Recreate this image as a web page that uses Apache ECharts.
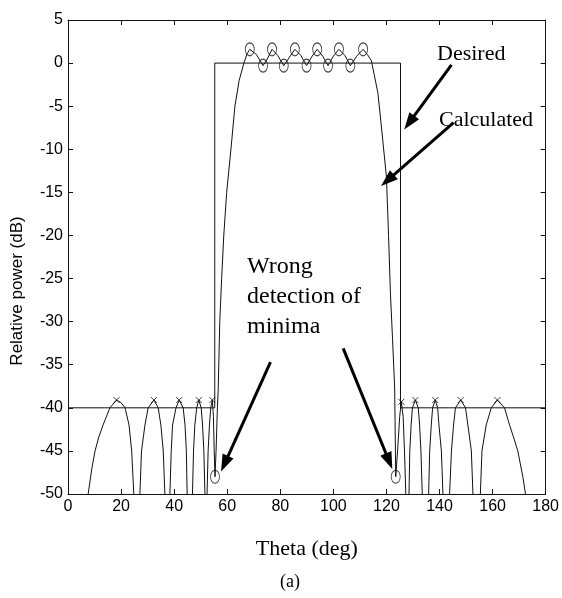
<!DOCTYPE html>
<html>
<head>
<meta charset="utf-8">
<script src="https://cdn.jsdelivr.net/npm/echarts@6/dist/echarts.min.js"></script>
<style>
html,body{margin:0;padding:0;background:#fff;}
#c{width:562px;height:598px;}
</style>
</head>
<body>
<div id="c"></div>
<script>
// ---- data ----
var xTicks = [0, 20, 40, 60, 80, 100, 120, 140, 160, 180];
var yTicks = [5, 0, -5, -10, -15, -20, -25, -30, -35, -40, -45, -50];

var desiredX = [0, 55.3, 55.3, 125.3, 125.3, 180];
var desiredY = [-40, -40, 0, 0, -40, -40];

var calcX = [7.6, 9, 10.2, 11.5, 13.2, 15.8, 18.3, 20, 21.5, 23, 24, 24.8, 26,
  27.1, 27.7, 29, 30.2, 32.4, 34, 35, 35.9, 36.5, 37.5,
  38.4, 38.9, 39.4, 40.7, 41.9, 43.4, 44.1, 44.6, 44.9, 46,
  46.9, 47.3, 47.8, 48.5, 49.3, 50.2, 50.7, 51.2, 51.6, 52,
  52.4, 52.8, 53.3, 53.8, 54.4, 54.8, 55.1, 55.4, 55.8, 56.3, 56.6, 57.2, 57.9, 58.7, 59.8, 61.4, 62.9, 64.5, 66.3, 67.5,
  68.5, 71, 73.5, 75.3, 76.9, 79, 81.3, 83.5, 85.5, 87.7, 89.9, 92, 93.9, 96, 98, 100, 102.1, 104.3, 106.4, 108.8, 111.2,
  112.8, 114.3, 115.5, 116.8, 118.3, 120, 120.8, 121.5, 122.3, 123.1, 123.5, 124.2, 125, 125.6, 126.3, 126.8, 127.3, 127.9,
  128.5, 128.8, 129.3, 129.8, 130.9, 132, 132.5, 133, 133.5, 134.6,
  135.9, 136.3, 136.9, 137.4, 138.4, 139.3, 139.8, 140.7, 141.3, 142.5,
  143.8, 144.5, 145.3, 146, 148, 149.8, 150.7, 152, 152.6, 154,
  155.4, 156, 157.6, 159.5, 161.8, 164.5, 166.4, 168, 169.5, 171.4, 172.4];
var calcY = [-50, -47, -45, -43.5, -42, -40, -39.1, -39.4, -40, -42, -45, -50, -57,
  -50, -45, -42, -40, -39.1, -40, -42, -45, -50, -57,
  -50, -45, -42, -40, -39.1, -40, -42, -45, -50, -57,
  -50, -45, -42, -40, -39.1, -40, -42, -45, -50, -56,
  -50, -45, -42, -40, -39.1, -41, -45, -48, -45, -40, -37.9, -30, -25, -20, -15, -10, -5, -2, 0, 1.1,
  1.6, 1.0, -0.3, 0.6, 1.6, 0.9, -0.3, 0.7, 1.6, 0.9, -0.3, 0.8, 1.6, 0.8, -0.3, 0.8, 1.6, 0.9, -0.3, 0.8, 1.6,
  1.0, 0.3, -1.5, -3.5, -8, -13.2, -20, -26.7, -32, -37.7, -48, -45, -41, -39.3, -41, -45, -50, -56,
  -50, -45, -42, -40, -39.1, -40, -42, -45, -50, -57,
  -50, -45, -42, -40, -39.1, -40, -42, -45, -50, -57,
  -50, -45, -42, -40, -39.1, -40, -42, -45, -50, -57,
  -50, -45, -42, -40, -39.1, -40, -42, -43.5, -45, -48, -50];

// detected maxima / minima of the main lobe (circles)
var maxCircX = [68.5, 76.9, 85.5, 93.9, 102.1, 111.2];
var maxCircY = [1.6, 1.6, 1.6, 1.6, 1.6, 1.6];
var minCircX = [73.5, 81.3, 89.9, 98, 106.4, 55.4, 123.5];
var minCircY = [-0.3, -0.3, -0.3, -0.3, -0.3, -48, -48];
// side-lobe peaks (x marks)
var peakX = [18.3, 32.4, 41.9, 49.3, 54.4, 125.6, 130.9, 138.4, 148, 161.8];
var peakY = [-39.1, -39.1, -39.1, -39.1, -39.1, -39.3, -39.1, -39.1, -39.1, -39.1];

function zip(a, b) { return a.map(function (v, i) { return [v, b[i]]; }); }

var chart = echarts.init(document.getElementById('c'), null, {renderer: 'canvas'});
var ink = '#111';
var tickFont = {fontFamily: 'Liberation Sans', fontSize: 16, color: '#000'};
var serif = 'Liberation Serif';

var arrowData = [
  [{coord: [144.5, -0.2]}, {coord: [128.6, -6.9]}],
  [{coord: [145.3, -6.9]}, {coord: [120.4, -13.6]}],
  [{coord: [76.3, -34.7]}, {coord: [59.0, -46.5]}],
  [{coord: [103.7, -33.1]}, {coord: [121.0, -46.2]}]
];

chart.setOption({
  animation: false,
  backgroundColor: '#fff',
  grid: {left: 68, right: 16, top: 20, bottom: 104},
  xAxis: [{
    type: 'value', min: 0, max: 180, interval: 20, position: 'bottom',
    axisLine: {onZero: false, lineStyle: {color: ink, width: 1}},
    axisTick: {inside: true, length: 5, lineStyle: {color: ink}},
    axisLabel: Object.assign({margin: 5, showMinLabel: true, showMaxLabel: true,
      formatter: function (v) { return xTicks.indexOf(v) >= 0 ? String(v) : ''; }}, tickFont),
    splitLine: {show: false},
    name: 'Theta (deg)', nameLocation: 'middle', nameGap: 44,
    nameTextStyle: {fontFamily: serif, fontSize: 22, color: '#000'}
  }, {
    type: 'value', min: 0, max: 180, interval: 20, position: 'top',
    axisLine: {onZero: false, lineStyle: {color: ink, width: 1}},
    axisTick: {inside: true, length: 5, lineStyle: {color: ink}},
    axisLabel: {show: false}, splitLine: {show: false}
  }],
  yAxis: [{
    type: 'value', min: -50, max: 5, interval: 5, position: 'left',
    axisLine: {onZero: false, lineStyle: {color: ink, width: 1}},
    axisTick: {inside: true, length: 5, lineStyle: {color: ink}},
    axisLabel: Object.assign({margin: 5, showMinLabel: true, showMaxLabel: true,
      formatter: function (v) { return yTicks.indexOf(v) >= 0 ? String(v) : ''; }}, tickFont),
    splitLine: {show: false}
  }, {
    type: 'value', min: -50, max: 5, interval: 5, position: 'right',
    axisLine: {onZero: false, lineStyle: {color: ink, width: 1}},
    axisTick: {inside: true, length: 5, lineStyle: {color: ink}},
    axisLabel: {show: false}, splitLine: {show: false}
  }],
  series: [{
    name: 'Desired', type: 'line', data: zip(desiredX, desiredY),
    showSymbol: false, symbol: 'none', lineStyle: {color: ink, width: 1}, clip: true, silent: true
  }, {
    name: 'Calculated', type: 'line', data: zip(calcX, calcY),
    showSymbol: false, symbol: 'none', lineStyle: {color: ink, width: 1}, clip: true, silent: true
  }, {
    name: 'maxima', type: 'scatter', data: zip(maxCircX, maxCircY).concat(zip(minCircX, minCircY)),
    symbol: 'path://M0,6A4,6,0,1,1,8,6A4,6,0,1,1,0,6Z', symbolSize: [9, 13],
    itemStyle: {color: 'transparent', borderColor: ink, borderWidth: 1}, silent: true
  }, {
    name: 'peaks', type: 'scatter', data: zip(peakX, peakY),
    symbol: 'path://M0,0L8,8M8,0L0,8', symbolSize: 6,
    itemStyle: {color: 'transparent', borderColor: ink, borderWidth: 1}, silent: true
  }, {
    name: 'arrows', type: 'scatter', data: [], silent: true,
    markLine: {
      silent: true, animation: false,
      symbol: ['none', 'triangle'], symbolSize: [12, 17],
      label: {show: false},
      lineStyle: {color: '#000', width: 3, type: 'solid'},
      itemStyle: {color: '#000'},
      emphasis: {disabled: true},
      data: arrowData
    }
  }],
  graphic: [
    {type: 'text', x: 17, y: 291, rotation: Math.PI / 2,
      style: {text: 'Relative power (dB)', font: '17px "Liberation Sans"', fill: '#000', align: 'center', verticalAlign: 'middle'}},
    {type: 'text', x: 437, y: 54,
      style: {text: 'Desired', font: '22px "Liberation Serif"', fill: '#000', align: 'left', verticalAlign: 'middle'}},
    {type: 'text', x: 439, y: 120,
      style: {text: 'Calculated', font: '22px "Liberation Serif"', fill: '#000', align: 'left', verticalAlign: 'middle'}},
    {type: 'text', x: 247, y: 267,
      style: {text: 'Wrong', font: '24px "Liberation Serif"', fill: '#000', align: 'left', verticalAlign: 'middle'}},
    {type: 'text', x: 247, y: 297,
      style: {text: 'detection of', font: '24px "Liberation Serif"', fill: '#000', align: 'left', verticalAlign: 'middle'}},
    {type: 'text', x: 247, y: 327,
      style: {text: 'minima', font: '24px "Liberation Serif"', fill: '#000', align: 'left', verticalAlign: 'middle'}},
    {type: 'text', x: 290, y: 582,
      style: {text: '(a)', font: '18px "Liberation Serif"', fill: '#000', align: 'center', verticalAlign: 'middle'}}
  ]
});
</script>
</body>
</html>
